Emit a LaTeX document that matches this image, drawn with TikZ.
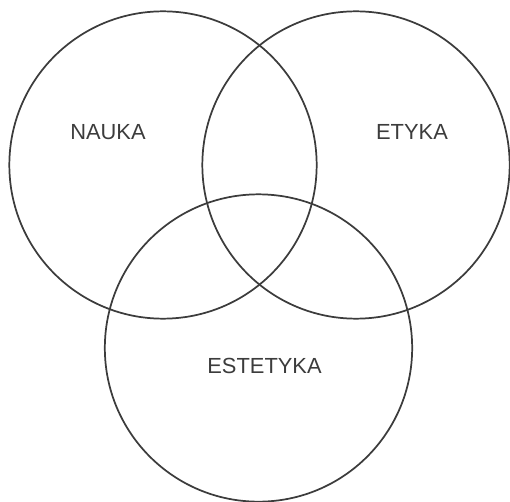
\documentclass[tikz,border=0pt]{standalone}
\usepackage{fontspec}
\setmainfont{Liberation Sans}
\usetikzlibrary{positioning}
\definecolor{inkgray}{HTML}{3c3c3c}

\begin{document}
\begin{tikzpicture}[
  x=0.75pt, y=-0.75pt,
  ring/.style={draw=inkgray, line width=1.3pt, circle, minimum size=230.5pt,
    inner sep=0pt},
  lab/.style={text=inkgray, font=\fontsize{16.4}{19}\selectfont, inner sep=0pt}
]
  \useasboundingbox (0,0) rectangle (510,502);
  \node[ring] (nauka)    at (163,165)   {};
  \node[ring] (etyka)    at (356,165)   {};
  \node[ring] (estetyka) at (258.5,348) {};
  \node[lab] (lnauka)    at (108,132) {NAUKA};
  \node[lab] (letyka)    at (412,132) {ETYKA};
  \node[lab] (lestetyka) at (264.5,366) {ESTETYKA};
\end{tikzpicture}
\end{document}
